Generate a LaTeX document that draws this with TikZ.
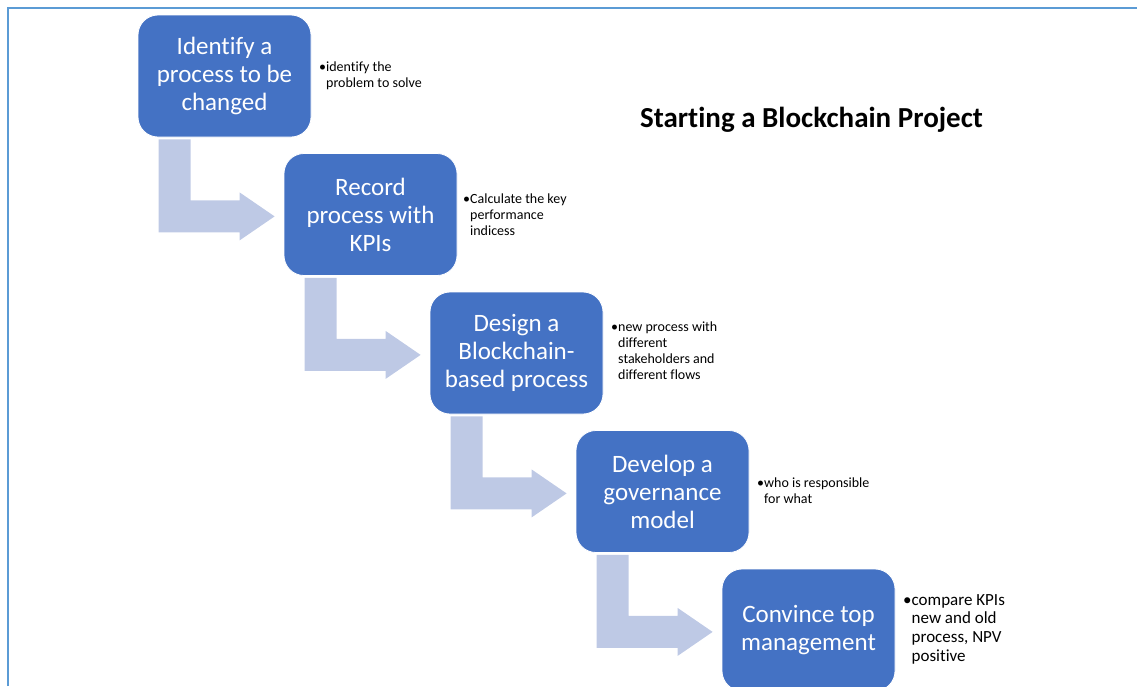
\documentclass[tikz,border=0pt]{standalone}
\usepackage{fontspec}
\setmainfont{Carlito}[Ligatures={NoCommon}]
\usetikzlibrary{calc}
\definecolor{boxblue}{RGB}{68,114,196}
\definecolor{arrowblue}{RGB}{190,201,229}
\definecolor{framebl}{RGB}{91,155,213}
\tikzset{
  stepbox/.style={fill=boxblue, draw=white, line width=0.8pt, rounded corners=20pt,
    minimum width=173pt, minimum height=122pt, text=white, align=center,
    font=\fontsize{25}{28}\selectfont, inner sep=0pt},
  bentarrow/.style={fill=arrowblue, draw=none},
  notetxt/.style={anchor=base west, inner sep=0pt, align=left, text=black},
  framelines/.style={draw=framebl, line width=2pt}
}
\newcommand{\mynote}[3]{{\fontsize{#1}{#2}\selectfont\begin{tabular}[t]{@{}l@{\hspace{0pt}}l@{}}•&#3\end{tabular}}}
\begin{document}
\begin{tikzpicture}[x=1pt,y=-1pt]
\useasboundingbox (0,0) rectangle (1137,686);
\draw[framelines] (8,686) -- (8,8) -- (1137,8);

\node[stepbox] (b1) at (224.5,76) {Identify a\\process to be\\changed};
\node[stepbox] (b2) at (370.5,214.5) {Record\\process with\\KPIs};
\node[stepbox] (b3) at (516.5,353) {Design a\\Blockchain-\\based process};
\node[stepbox] (b4) at (662.5,491.5) {Develop a\\governance\\model};
\node[stepbox] (b5) at (808.5,630) {Convince top\\management};

\foreach \a in {b1,b2,b3,b4}{
  \fill[bentarrow] (\a.south west) ++(21,2) -- ++(32,0) -- ++(0,61) -- ++(49,0) -- ++(0,-8)
    -- ++(35,24) -- ++(-35,24) -- ++(0,-8) -- ++(-81,0) -- cycle;
}

\node[notetxt] (n1) at (319,71.5) {\mynote{14}{16}{identify the\\ & problem to solve}};
\node[notetxt] (n2) at (463,203) {\mynote{14}{16}{Calculate the key\\ & performance\\ & indicess}};
\node[notetxt] (n3) at (611,331) {\mynote{14}{16}{new process with\\ & different\\ & stakeholders and\\ & different flows}};
\node[notetxt] (n4) at (757,487) {\mynote{14}{16}{who is responsible\\ & for what}};
\node[notetxt] (n5) at (903,605) {\mynote{17}{18.8}{compare KPIs\\ & new and old\\ & process, NPV\\ & positive}};

\node[anchor=base, inner sep=0pt, font=\fontsize{29}{34}\selectfont\bfseries] (title) at (811.5,127) {Starting a Blockchain Project};
\end{tikzpicture}
\end{document}
